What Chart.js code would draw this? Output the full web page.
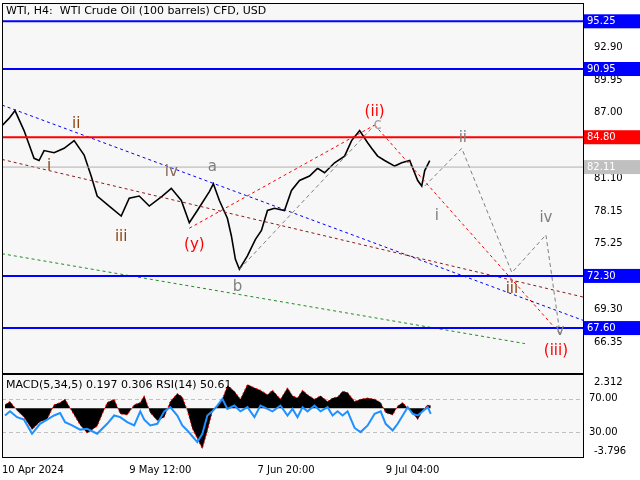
<!DOCTYPE html>
<html><head><meta charset="utf-8">
<script src="https://cdn.jsdelivr.net/npm/chart.js@4/dist/chart.umd.min.js"></script>
<style>
body{margin:0;background:#fff;font-family:"DejaVu Sans",sans-serif}
#wrap{position:relative;width:640px;height:480px;background:#fff;overflow:hidden}
canvas{position:absolute;left:0}
#title{position:absolute;left:6px;top:4px;font-size:11px;color:#000;z-index:2}
#ind{position:absolute;left:6px;top:378px;font-size:11px;color:#000;z-index:2}
</style></head><body>
<div id="wrap">
<canvas id="main" width="640" height="388" style="top:-6px"></canvas>
<canvas id="sub" width="640" height="115" style="top:365px"></canvas>
<div id="title">WTI, H4:&nbsp; WTI Crude Oil (100 barrels) CFD, USD</div>
<div id="ind">MACD(5,34,5) 0.197 0.306 RSI(14) 50.61</div>
</div>
<script>
// H4 bar index vs close price
const priceBars = [0,7,13,22,32,37,42,52,62,72,82,89,95,107,119,127,137,147,160,169,179,187,195,207,211,217,225,229,233,237,245,253,259,265,272,282,289,297,307,315,322,332,342,349,357,365,369,375,382,392,399,407,415,419,422,427];
const priceVals = [85.85,86.5,87.2,85.4,82.9,82.7,83.6,83.4,83.8,84.5,83.2,81.3,79.5,78.6,77.7,79.3,79.5,78.6,79.5,80.2,79.1,77.1,78.2,79.9,80.6,79.1,77.5,75.9,73.8,72.9,74.1,75.6,76.4,78.2,78.4,78.2,80.0,80.9,81.3,82.0,81.6,82.5,83.1,84.5,85.4,84.3,83.8,83.1,82.7,82.2,82.5,82.7,80.9,80.4,81.8,82.7];
const lastPrice = 82.11;
// forecast wave path
const projBars = [422,459,509,543,557];
const projVals = [80.4,83.8,72.6,76.0,67.1];
// horizontal levels
const levels = [95.25,90.95,84.80,72.30,67.60];
const levelColors = ['#0000ff','#0000ff','#ff0000','#0000ff','#0000ff'];
const priceTicks = [92.90,89.95,87.00,81.10,78.15,75.25,69.30,66.35];
// trend lines [x1,y1,x2,y2,color]
const trends = [
  [0,87.7,580,68.3,'#0000ff'],
  [0,82.8,580,70.4,'#8b1a1a'],
  [0,74.3,522,66.2,'#228b22'],
  [187,76.6,372,85.9,'#ff0000'],
  [372,85.9,557,67.1,'#ff0000'],
  [237,72.9,372,85.9,'#808080']
];
// wave labels [bar, price, text, colour]
const waveLabels = [
  [74,86.0,'ii','#8b4513'],[47,82.2,'i','#8b4513'],[119,75.8,'iii','#8b4513'],
  [169,81.7,'iv','#8b6a5a'],[210,82.1,'a','#808080'],[192,75.1,'(y)','#ff0000'],
  [235,71.3,'b','#808080'],[372,87.1,'(ii)','#ff0000'],[375,85.9,'c','#a0a0a0'],
  [460,84.7,'ii','#808080'],[434,77.7,'i','#808080'],[509,71.1,'iii','#8b4513'],
  [543,77.5,'iv','#808080'],[557,67.3,'v','#808080'],[553,65.5,'(iii)','#ff0000']
];
// oscillator panel
const oscBars = [3,8,15,22,30,38,45,52,58,63,70,78,85,95,105,112,118,125,132,138,142,148,155,162,168,175,180,185,190,195,200,205,210,215,220,225,232,238,245,252,258,265,270,278,285,290,295,300,305,312,318,325,330,335,340,345,352,358,365,372,378,383,390,395,400,405,410,415,420,425,428];
const macdVals = [0.3,0.6,-0.2,-0.8,-1.9,-1.2,-1.0,0.3,0.5,0.8,-0.3,-1.5,-2.2,-1.6,0.5,0.8,-0.5,-0.6,0.3,0.5,1.1,-0.4,-1.1,-0.8,0.6,1.3,1.0,-0.2,-1.8,-2.7,-3.6,-2.0,-0.3,0.2,0.8,2.0,1.5,0.8,2.1,1.8,1.6,1.2,1.6,0.8,1.8,1.1,0.9,1.6,1.2,0.8,1.1,0.6,0.9,1.0,1.5,1.4,0.6,0.8,0.9,0.8,0.5,-0.4,-0.6,0.2,0.5,0.0,-0.4,-1.0,-0.2,0.3,0.2];
const rsiVals = [50,55,48,45,28,40,45,50,53,42,38,33,34,28,40,50,48,42,38,55,45,38,40,55,60,50,38,32,25,18,28,50,55,62,70,58,62,55,60,48,62,58,55,62,50,58,48,60,55,62,55,60,50,55,50,55,35,30,38,52,55,40,32,40,50,60,52,50,55,60,52];
const timeTicks = [0,127,255,383];
const timeLabels = ['10 Apr 2024','9 May 12:00','7 Jun 20:00','9 Jul 04:00'];

const FONT = {family:'DejaVu Sans', size:10};
const BG = '#f7f7f7';
const pts = (xs, ys) => xs.map((x, i) => ({x: x, y: ys[i]}));

const bgPlugin = {
  id: 'bg',
  beforeDraw(c) {
    const a = c.chartArea, ctx = c.ctx;
    ctx.save(); ctx.fillStyle = BG; ctx.fillRect(a.left, a.top, a.right - a.left, a.bottom - a.top); ctx.restore();
  },
  afterDraw(c) {
    const a = c.chartArea, ctx = c.ctx;
    ctx.save(); ctx.strokeStyle = '#000'; ctx.lineWidth = 1;
    ctx.strokeRect(a.left + 0.5, a.top + 0.5, a.right - a.left, a.bottom - a.top); ctx.restore();
  }
};

const mainExtras = {
  id: 'mainExtras',
  afterDraw(c) {
    const ctx = c.ctx, xs = c.scales.x, ys = c.scales.y, a = c.chartArea;
    ctx.save();
    ctx.textAlign = 'center'; ctx.textBaseline = 'middle';
    waveLabels.forEach(w => {
      ctx.font = '15px "DejaVu Sans"'; ctx.fillStyle = w[3];
      ctx.fillText(w[2], xs.getPixelForValue(w[0]), ys.getPixelForValue(w[1]));
    });
    ctx.font = '10px "DejaVu Sans"'; ctx.textAlign = 'left';
    const box = (v, col) => {
      const y = ys.getPixelForValue(v);
      ctx.fillStyle = col; ctx.fillRect(a.right + 1, y - 7, 56, 14);
      ctx.fillStyle = '#fff'; ctx.fillText(v.toFixed(2), a.right + 4, y);
    };
    levels.forEach((v, i) => box(v, levelColors[i]));
    box(lastPrice, '#c0c0c0');
    ctx.restore();
  }
};

const lineDs = (data, color, width, dash) => ({
  data: data, borderColor: color, borderWidth: width, borderDash: dash || [],
  pointRadius: 0, fill: false, tension: 0
});

const mainSets = [];
levels.forEach((v, i) => mainSets.push(lineDs(pts([0, 580], [v, v]), levelColors[i], 2)));
mainSets.push(lineDs(pts([0, 580], [lastPrice, lastPrice]), '#b0b0b0', 1));
trends.forEach(t => mainSets.push(lineDs(pts([t[0], t[2]], [t[1], t[3]]), t[4], 1, t[4] === '#808080' ? [4, 3] : [3, 3])));
mainSets.push(lineDs(pts(projBars, projVals), '#808080', 1, [4, 3]));
mainSets.push(lineDs(pts(priceBars, priceVals), '#000', 1.6));

new Chart(document.getElementById('main'), {
  type: 'line',
  data: {datasets: mainSets},
  options: {
    responsive: false, animation: false,
    layout: {padding: {left: 2, top: 2, bottom: 0}},
    plugins: {legend: {display: false}, tooltip: {enabled: false}},
    scales: {
      x: {type: 'linear', min: 0, max: 580, display: false},
      y: {
        position: 'right', min: 63.55, max: 96.9,
        afterBuildTicks: s => { s.ticks = priceTicks.concat(levels, [lastPrice]).map(v => ({value: v})); },
        afterFit: s => { s.width = 57; },
        grid: {display: false, drawTicks: true},
        border: {display: false},
        ticks: {font: FONT, color: '#000', padding: 3, callback: v => v.toFixed(2)}
      }
    }
  },
  plugins: [bgPlugin, mainExtras]
});

const subExtras = {
  id: 'subExtras',
  beforeDatasetsDraw(c) {
    const ctx = c.ctx, r = c.scales.rsi, a = c.chartArea;
    ctx.save(); ctx.strokeStyle = '#c0c0c0'; ctx.setLineDash([4, 3]);
    [70, 30].forEach(v => { const y = Math.round(r.getPixelForValue(v)) + 0.5; ctx.beginPath(); ctx.moveTo(a.left, y); ctx.lineTo(a.right, y); ctx.stroke(); });
    ctx.restore();
  },
  afterDraw(c) {
    const ctx = c.ctx, r = c.scales.rsi, a = c.chartArea;
    ctx.save(); ctx.font = '10px "DejaVu Sans"'; ctx.fillStyle = '#000'; ctx.textBaseline = 'middle';
    [70, 30].forEach(v => ctx.fillText(v.toFixed(2), a.right + 6, r.getPixelForValue(v)));
    ctx.restore();
  }
};

new Chart(document.getElementById('sub'), {
  type: 'line',
  data: {datasets: [
    {data: pts(oscBars, rsiVals), yAxisID: 'rsi', borderColor: '#1e90ff', borderWidth: 2, pointRadius: 0, fill: false, tension: 0},
    {data: pts(oscBars, macdVals), yAxisID: 'y', borderColor: '#ff0000', borderWidth: 1, borderDash: [2, 2], backgroundColor: '#000', fill: 'origin', pointRadius: 0, tension: 0}
  ]},
  options: {
    responsive: false, animation: false,
    layout: {padding: {left: 2, top: 0, bottom: 2}},
    plugins: {legend: {display: false}, tooltip: {enabled: false}},
    scales: {
      x: {
        type: 'linear', min: 0, max: 580,
        afterBuildTicks: s => { s.ticks = timeTicks.map(v => ({value: v})); },
        grid: {display: false, drawTicks: true, tickLength: 5, color: '#000'},
        border: {display: false},
        ticks: {font: FONT, color: '#000', maxRotation: 0, align: 'start', padding: 2,
          callback: v => timeLabels[timeTicks.indexOf(v)]}
      },
      y: {
        position: 'right', min: -4.33, max: 3.03,
        afterBuildTicks: s => { s.ticks = [{value: -3.796}, {value: 2.312}]; },
        afterFit: s => { s.width = 57; },
        grid: {display: false},
        border: {display: false},
        ticks: {font: FONT, color: '#000', padding: 3, callback: v => v.toFixed(3)}
      },
      rsi: {type: 'linear', axis: 'y', display: false, min: 0, max: 100}
    }
  },
  plugins: [bgPlugin, subExtras]
});
</script>
</body></html>
